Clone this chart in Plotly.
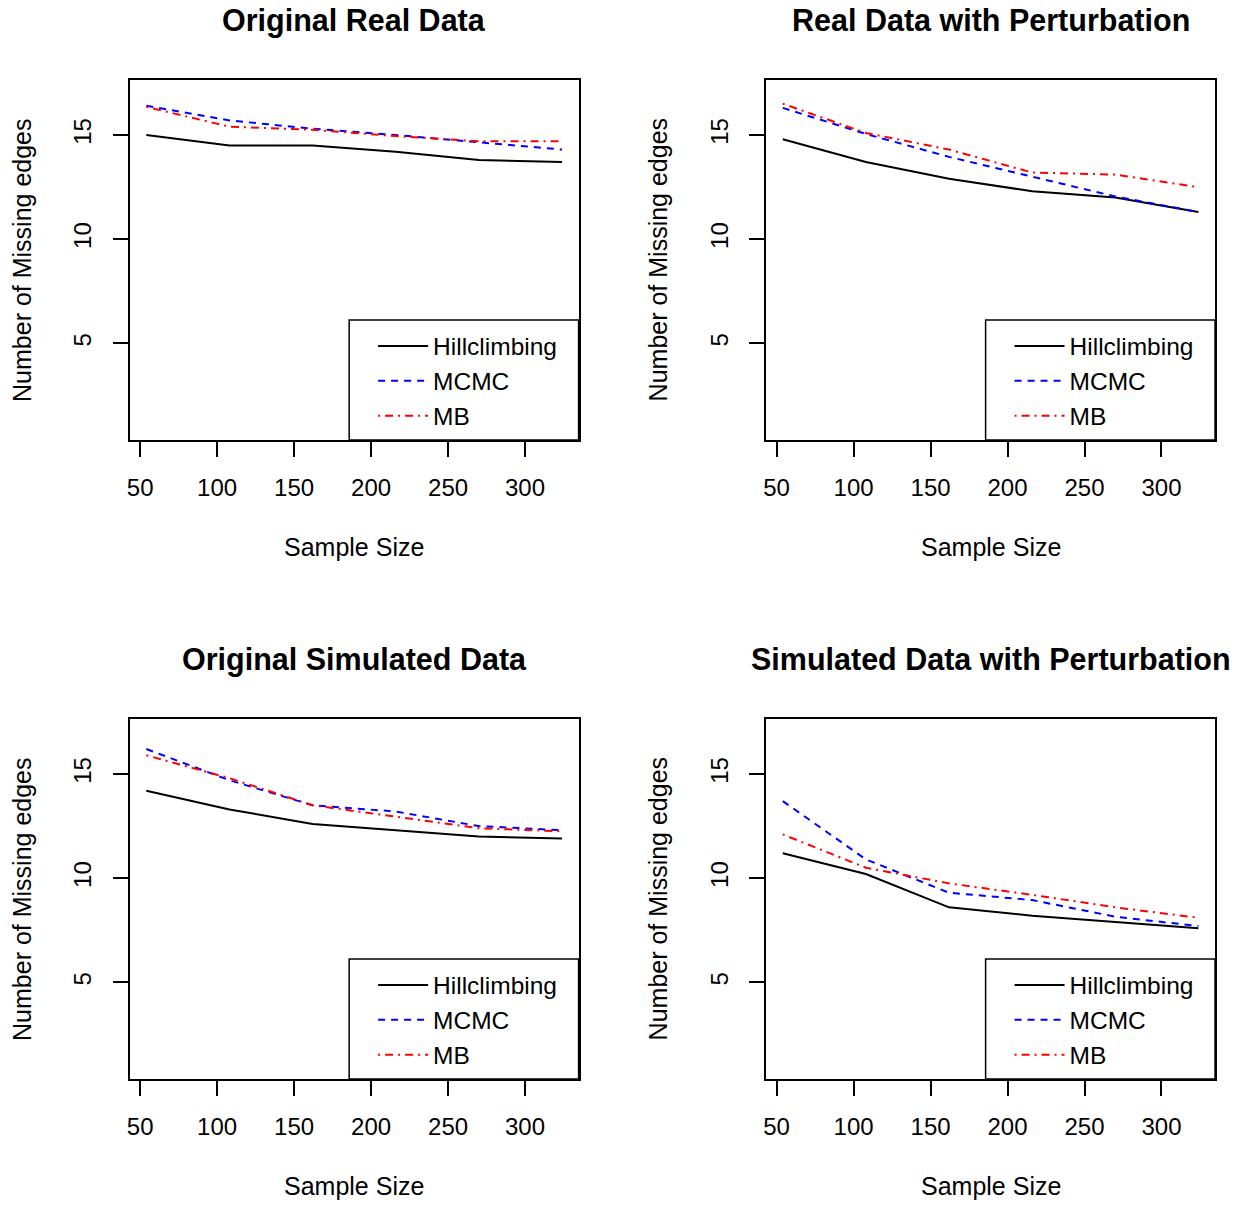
import plotly.graph_objects as go

W, H = 1236, 1205

sample_sizes = [54, 108, 162, 216, 270, 324]
x_ticks = [50, 100, 150, 200, 250, 300]
y_ticks = [5, 10, 15]

panel_titles = ["Original Real Data", "Real Data with Perturbation",
                "Original Simulated Data", "Simulated Data with Perturbation"]
method_names = ["Hillclimbing", "MCMC", "MB"]

real_orig_hc = [15.0, 14.5, 14.5, 14.2, 13.8, 13.7]
real_orig_mcmc = [16.4, 15.7, 15.3, 15.0, 14.65, 14.3]
real_orig_mb = [16.35, 15.4, 15.25, 14.95, 14.7, 14.7]

real_pert_hc = [14.8, 13.7, 12.9, 12.3, 12.0, 11.3]
real_pert_mcmc = [16.3, 15.05, 13.95, 13.0, 12.05, 11.3]
real_pert_mb = [16.5, 15.1, 14.3, 13.2, 13.1, 12.5]

sim_orig_hc = [14.2, 13.3, 12.6, 12.3, 12.0, 11.9]
sim_orig_mcmc = [16.2, 14.7, 13.5, 13.2, 12.5, 12.3]
sim_orig_mb = [15.9, 14.8, 13.5, 12.95, 12.4, 12.25]

sim_pert_hc = [11.2, 10.2, 8.6, 8.2, 7.9, 7.6]
sim_pert_mcmc = [13.7, 10.9, 9.3, 8.95, 8.15, 7.7]
sim_pert_mb = [12.1, 10.5, 9.75, 9.2, 8.6, 8.1]

panels = [
    (real_orig_hc, real_orig_mcmc, real_orig_mb),
    (real_pert_hc, real_pert_mcmc, real_pert_mb),
    (sim_orig_hc, sim_orig_mcmc, sim_orig_mb),
    (sim_pert_hc, sim_pert_mcmc, sim_pert_mb),
]

styles = [
    dict(color="black", dash="solid"),
    dict(color="blue", dash="7px,6px"),
    dict(color="red", dash="2px,5px,8px,5px"),
]

FONT = "Liberation Sans, Arial, Helvetica, sans-serif"

# plot boxes in pixels (left, right, top, bottom)
boxes = [(127, 577, 80, 440), (765, 1215, 80, 440),
         (127, 577, 719, 1079), (765, 1215, 719, 1079)]

fig = go.Figure()
layout = dict(
    width=W, height=H, margin=dict(l=0, r=0, t=0, b=0),
    paper_bgcolor="white", plot_bgcolor="white",
    font=dict(family=FONT, size=24, color="black"),
    annotations=[], shapes=[],
)

for i, (vals, box) in enumerate(zip(panels, boxes)):
    n = i + 1
    xa = "x" if n == 1 else f"x{n}"
    ya = "y" if n == 1 else f"y{n}"
    lg = "legend" if n == 1 else f"legend{n}"
    for name, v, st in zip(method_names, vals, styles):
        fig.add_trace(go.Scatter(
            x=sample_sizes, y=v, mode="lines", name=name,
            line=dict(color=st["color"], dash=st["dash"], width=2),
            xaxis=xa, yaxis=ya, legend=lg, showlegend=True,
        ))
    l, r, t, b = box
    xd = [l / W, r / W]
    yd = [1 - b / H, 1 - t / H]
    axkey = "xaxis" if n == 1 else f"xaxis{n}"
    aykey = "yaxis" if n == 1 else f"yaxis{n}"
    layout[axkey] = dict(
        domain=xd, anchor=ya, range=[43.2, 334.8],
        tickvals=x_ticks, ticks="outside", ticklen=15, tickwidth=1.5,
        tickcolor="black", showline=True, linecolor="black", linewidth=1.5,
        mirror=True, showgrid=False, zeroline=False,
        tickfont=dict(size=24, family=FONT), ticklabelstandoff=10,
    )
    layout[aykey] = dict(
        domain=yd, anchor=xa, range=[0.36, 17.64],
        tickvals=y_ticks, ticks="outside", ticklen=15, tickwidth=1.5,
        tickcolor="black", showline=True, linecolor="black", linewidth=1.5,
        mirror=True, showgrid=False, zeroline=False, tickangle=-90,
        tickfont=dict(size=24, family=FONT), ticklabelstandoff=12,
    )
    # legend frame (R-style box in the bottom-right corner)
    lx0, lx1, ly0, ly1 = r - 230, r, b - 120, b
    layout["shapes"].append(dict(
        type="rect", xref="paper", yref="paper",
        x0=lx0 / W, x1=lx1 / W, y0=1 - ly1 / H, y1=1 - ly0 / H,
        fillcolor="white", line=dict(color="black", width=1.5), layer="above",
    ))
    layout[lg] = dict(
        x=(lx0 + 24) / W, y=1 - (ly0 + 61) / H, xanchor="left", yanchor="middle",
        bgcolor="rgba(0,0,0,0)", borderwidth=0,
        font=dict(size=24.5, family=FONT), tracegroupgap=0,
        itemwidth=50, traceorder="normal",
    )
    cx = (l + r) / 2
    layout["annotations"].append(dict(
        text=f"<b>{panel_titles[i]}</b>", x=cx / W, y=1 - (t - 60) / H,
        xref="paper", yref="paper", xanchor="center", yanchor="middle",
        showarrow=False, font=dict(size=30.5, family=FONT),
    ))
    layout["annotations"].append(dict(
        text="Sample Size", x=cx / W, y=1 - (b + 107) / H,
        xref="paper", yref="paper", xanchor="center", yanchor="middle",
        showarrow=False, font=dict(size=25, family=FONT),
    ))
    layout["annotations"].append(dict(
        text="Number of Missing edges", x=(l - 108) / W, y=1 - ((t + b) / 2) / H,
        xref="paper", yref="paper", xanchor="center", yanchor="middle",
        textangle=-90, showarrow=False, font=dict(size=25, family=FONT),
    ))

fig.update_layout(**layout)
fig.write_html("out.html")
